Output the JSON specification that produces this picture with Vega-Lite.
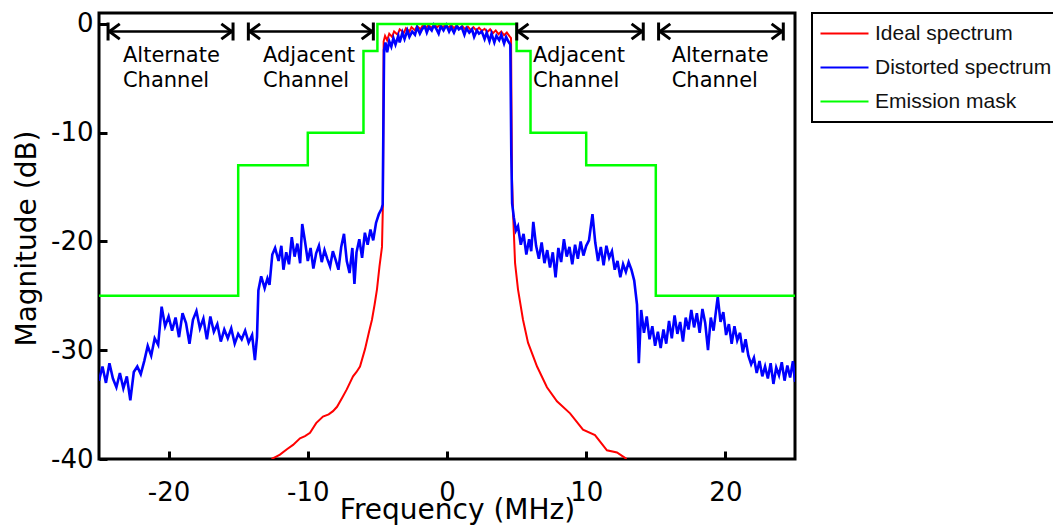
{
  "$schema": "https://vega.github.io/schema/vega-lite/v6.json",
  "width": 696,
  "height": 446,
  "autosize": {"type": "none"},
  "padding": {"left": 99, "top": 13, "right": 258, "bottom": 72},
  "background": "white",
  "config": {
    "view": {"stroke": "black", "strokeWidth": 3},
    "axis": {
      "grid": false, "domain": false, "zindex": 1,
      "labelFont": "DejaVu Sans", "labelFontSize": 26, "labelColor": "black",
      "titleFont": "DejaVu Sans", "titleFontSize": 28, "titleFontWeight": "normal", "titleColor": "black",
      "tickColor": "black", "tickWidth": 3, "tickSize": -8, "ticks": true, "tickOpacity": 1
    }
  },
  "datasets": {
    "ideal": [
      {"f": -12.6, "m": -40.0}, {"f": -12.3, "m": -39.8}, {"f": -12.0, "m": -39.6}, {"f": -11.5, "m": -39.1},
      {"f": -11.06, "m": -38.7}, {"f": -10.56, "m": -38.1}, {"f": -10.2, "m": -37.9}, {"f": -9.84, "m": -37.6},
      {"f": -9.4, "m": -36.7}, {"f": -8.91, "m": -36.1}, {"f": -8.5, "m": -35.9}, {"f": -8.19, "m": -35.6},
      {"f": -7.9, "m": -35.2}, {"f": -7.5, "m": -34.3}, {"f": -7.2, "m": -33.6}, {"f": -6.75, "m": -32.4},
      {"f": -6.5, "m": -32.0}, {"f": -6.25, "m": -31.5}, {"f": -5.89, "m": -29.9}, {"f": -5.6, "m": -28.3},
      {"f": -5.39, "m": -27.2}, {"f": -5.2, "m": -25.8}, {"f": -5.03, "m": -24.4}, {"f": -4.85, "m": -22.3},
      {"f": -4.67, "m": -20.5}, {"f": -4.6, "m": -16.4}, {"f": -4.55, "m": -1.6}, {"f": -4.45, "m": -1.1},
      {"f": -4.3, "m": -1.5}, {"f": -4.15, "m": -0.9}, {"f": -3.95, "m": -1.2}, {"f": -3.8, "m": -0.7},
      {"f": -3.55, "m": -1.0}, {"f": -3.4, "m": -0.5}, {"f": -3.1, "m": -0.8}, {"f": -2.95, "m": -0.4},
      {"f": -2.7, "m": -0.7}, {"f": -2.55, "m": -0.3}, {"f": -2.3, "m": -0.6}, {"f": -2.15, "m": -0.2},
      {"f": -1.9, "m": -0.5}, {"f": -1.75, "m": -0.15}, {"f": -1.5, "m": -0.4}, {"f": -1.35, "m": -0.1},
      {"f": -1.1, "m": -0.35}, {"f": -0.9, "m": -0.1}, {"f": -0.7, "m": -0.3}, {"f": -0.5, "m": -0.05},
      {"f": -0.3, "m": -0.3}, {"f": -0.1, "m": -0.1}, {"f": 0.1, "m": -0.35}, {"f": 0.3, "m": -0.1},
      {"f": 0.5, "m": -0.4}, {"f": 0.7, "m": -0.15}, {"f": 0.9, "m": -0.45}, {"f": 1.1, "m": -0.2},
      {"f": 1.3, "m": -0.5}, {"f": 1.5, "m": -0.25}, {"f": 1.7, "m": -0.55}, {"f": 1.9, "m": -0.3},
      {"f": 2.1, "m": -0.6}, {"f": 2.3, "m": -0.35}, {"f": 2.5, "m": -0.65}, {"f": 2.7, "m": -0.45},
      {"f": 2.9, "m": -0.75}, {"f": 3.1, "m": -0.5}, {"f": 3.3, "m": -0.85}, {"f": 3.5, "m": -0.6},
      {"f": 3.7, "m": -0.95}, {"f": 3.9, "m": -0.7}, {"f": 4.1, "m": -1.05}, {"f": 4.3, "m": -0.8},
      {"f": 4.5, "m": -1.15}, {"f": 4.6, "m": -1.3}, {"f": 4.67, "m": -14.3}, {"f": 4.75, "m": -17.5},
      {"f": 4.89, "m": -22.0}, {"f": 5.1, "m": -24.4}, {"f": 5.46, "m": -27.2}, {"f": 5.82, "m": -29.3},
      {"f": 6.47, "m": -31.5}, {"f": 7.18, "m": -33.4}, {"f": 7.9, "m": -34.7}, {"f": 8.84, "m": -35.8},
      {"f": 9.77, "m": -37.3}, {"f": 10.63, "m": -37.8}, {"f": 11.49, "m": -39.2}, {"f": 12.21, "m": -39.4},
      {"f": 12.79, "m": -39.9}, {"f": 12.9, "m": -40.0}
    ],
    "distorted": [
      {"f": -25.0, "m": -32.8}, {"f": -24.75, "m": -31.5}, {"f": -24.5, "m": -33.0}, {"f": -24.25, "m": -31.2},
      {"f": -24.0, "m": -32.6}, {"f": -23.75, "m": -33.4}, {"f": -23.5, "m": -32.1}, {"f": -23.25, "m": -33.5},
      {"f": -23.0, "m": -32.4}, {"f": -22.75, "m": -34.6}, {"f": -22.5, "m": -32.0}, {"f": -22.25, "m": -31.5},
      {"f": -22.0, "m": -32.2}, {"f": -21.75, "m": -31.0}, {"f": -21.5, "m": -29.6}, {"f": -21.25, "m": -30.5},
      {"f": -21.0, "m": -28.9}, {"f": -20.75, "m": -29.5}, {"f": -20.5, "m": -26.0}, {"f": -20.25, "m": -27.8},
      {"f": -20.0, "m": -26.9}, {"f": -19.75, "m": -28.2}, {"f": -19.5, "m": -27.0}, {"f": -19.25, "m": -28.8},
      {"f": -19.0, "m": -26.6}, {"f": -18.75, "m": -27.5}, {"f": -18.5, "m": -29.4}, {"f": -18.25, "m": -27.2},
      {"f": -18.0, "m": -26.4}, {"f": -17.75, "m": -28.0}, {"f": -17.5, "m": -27.1}, {"f": -17.25, "m": -29.0},
      {"f": -17.0, "m": -26.9}, {"f": -16.75, "m": -28.3}, {"f": -16.5, "m": -27.6}, {"f": -16.25, "m": -29.2},
      {"f": -16.0, "m": -28.1}, {"f": -15.75, "m": -28.9}, {"f": -15.5, "m": -28.0}, {"f": -15.25, "m": -29.4},
      {"f": -15.0, "m": -28.5}, {"f": -14.75, "m": -29.0}, {"f": -14.5, "m": -28.2}, {"f": -14.25, "m": -29.3},
      {"f": -14.0, "m": -28.6}, {"f": -13.8, "m": -30.9}, {"f": -13.65, "m": -28.8}, {"f": -13.55, "m": -24.5},
      {"f": -13.35, "m": -23.2}, {"f": -13.1, "m": -24.3}, {"f": -12.9, "m": -23.4}, {"f": -12.75, "m": -24.0},
      {"f": -12.55, "m": -21.2}, {"f": -12.35, "m": -20.6}, {"f": -12.1, "m": -21.8}, {"f": -11.9, "m": -20.4},
      {"f": -11.75, "m": -22.6}, {"f": -11.55, "m": -21.0}, {"f": -11.35, "m": -22.1}, {"f": -11.15, "m": -19.6},
      {"f": -10.95, "m": -21.4}, {"f": -10.75, "m": -20.2}, {"f": -10.55, "m": -22.0}, {"f": -10.4, "m": -18.4},
      {"f": -10.2, "m": -20.0}, {"f": -10.0, "m": -21.8}, {"f": -9.8, "m": -20.6}, {"f": -9.6, "m": -22.5},
      {"f": -9.4, "m": -21.1}, {"f": -9.2, "m": -20.4}, {"f": -9.0, "m": -21.9}, {"f": -8.8, "m": -20.8},
      {"f": -8.6, "m": -21.6}, {"f": -8.4, "m": -22.3}, {"f": -8.2, "m": -20.9}, {"f": -8.0, "m": -21.7},
      {"f": -7.8, "m": -22.6}, {"f": -7.6, "m": -20.5}, {"f": -7.4, "m": -19.3}, {"f": -7.2, "m": -21.8},
      {"f": -7.0, "m": -22.9}, {"f": -6.8, "m": -20.6}, {"f": -6.65, "m": -23.9}, {"f": -6.5, "m": -21.0},
      {"f": -6.3, "m": -19.8}, {"f": -6.1, "m": -21.5}, {"f": -5.9, "m": -19.2}, {"f": -5.7, "m": -20.3},
      {"f": -5.5, "m": -18.9}, {"f": -5.3, "m": -19.9}, {"f": -5.1, "m": -18.3}, {"f": -4.9, "m": -17.5},
      {"f": -4.7, "m": -17.0}, {"f": -4.62, "m": -16.6}, {"f": -4.56, "m": -8.0}, {"f": -4.52, "m": -2.4},
      {"f": -4.42, "m": -1.7}, {"f": -4.3, "m": -2.6}, {"f": -4.15, "m": -1.6}, {"f": -4.0, "m": -2.1},
      {"f": -3.85, "m": -1.3}, {"f": -3.7, "m": -1.9}, {"f": -3.5, "m": -1.1}, {"f": -3.4, "m": -1.7},
      {"f": -3.2, "m": -0.8}, {"f": -3.05, "m": -1.4}, {"f": -2.85, "m": -0.6}, {"f": -2.7, "m": -1.2},
      {"f": -2.5, "m": -0.7}, {"f": -2.3, "m": -1.0}, {"f": -2.15, "m": -0.3}, {"f": -1.95, "m": -0.9},
      {"f": -1.8, "m": -0.5}, {"f": -1.6, "m": -0.2}, {"f": -1.45, "m": -0.8}, {"f": -1.3, "m": -0.3},
      {"f": -1.1, "m": -0.6}, {"f": -0.95, "m": -0.1}, {"f": -0.75, "m": -0.5}, {"f": -0.6, "m": -0.9},
      {"f": -0.45, "m": -0.2}, {"f": -0.25, "m": -0.6}, {"f": -0.05, "m": -0.1}, {"f": 0.15, "m": -0.7},
      {"f": 0.3, "m": -0.3}, {"f": 0.5, "m": -0.8}, {"f": 0.7, "m": -0.2}, {"f": 0.85, "m": -0.5},
      {"f": 1.05, "m": -0.3}, {"f": 1.25, "m": -1.0}, {"f": 1.4, "m": -0.4}, {"f": 1.6, "m": -0.8},
      {"f": 1.8, "m": -0.5}, {"f": 1.95, "m": -1.2}, {"f": 2.15, "m": -0.6}, {"f": 2.3, "m": -0.9},
      {"f": 2.5, "m": -0.7}, {"f": 2.7, "m": -1.4}, {"f": 2.85, "m": -0.8}, {"f": 3.05, "m": -1.6},
      {"f": 3.2, "m": -0.9}, {"f": 3.4, "m": -1.7}, {"f": 3.55, "m": -1.1}, {"f": 3.75, "m": -1.5},
      {"f": 3.9, "m": -1.0}, {"f": 4.1, "m": -1.8}, {"f": 4.25, "m": -1.2}, {"f": 4.4, "m": -1.6},
      {"f": 4.55, "m": -1.9}, {"f": 4.62, "m": -12.0}, {"f": 4.68, "m": -16.5},
      {"f": 4.8, "m": -17.8}, {"f": 4.95, "m": -19.0}, {"f": 5.1, "m": -18.6}, {"f": 5.3, "m": -20.3},
      {"f": 5.5, "m": -19.3}, {"f": 5.7, "m": -21.2}, {"f": 5.9, "m": -19.8}, {"f": 6.05, "m": -20.9},
      {"f": 6.2, "m": -18.2}, {"f": 6.4, "m": -20.4}, {"f": 6.6, "m": -21.6}, {"f": 6.8, "m": -20.1},
      {"f": 7.0, "m": -22.0}, {"f": 7.2, "m": -20.8}, {"f": 7.4, "m": -22.4}, {"f": 7.6, "m": -21.0},
      {"f": 7.8, "m": -23.3}, {"f": 8.0, "m": -20.6}, {"f": 8.2, "m": -21.9}, {"f": 8.4, "m": -19.8},
      {"f": 8.6, "m": -21.4}, {"f": 8.8, "m": -20.5}, {"f": 9.0, "m": -22.1}, {"f": 9.2, "m": -20.3},
      {"f": 9.4, "m": -21.6}, {"f": 9.6, "m": -20.0}, {"f": 9.8, "m": -21.3}, {"f": 10.0, "m": -20.4},
      {"f": 10.2, "m": -19.9}, {"f": 10.45, "m": -17.5}, {"f": 10.65, "m": -20.1}, {"f": 10.85, "m": -21.8},
      {"f": 11.05, "m": -20.5}, {"f": 11.25, "m": -22.2}, {"f": 11.45, "m": -20.4}, {"f": 11.65, "m": -21.5},
      {"f": 11.85, "m": -20.9}, {"f": 12.05, "m": -22.6}, {"f": 12.25, "m": -21.8}, {"f": 12.45, "m": -23.3},
      {"f": 12.65, "m": -22.1}, {"f": 12.85, "m": -22.8}, {"f": 13.05, "m": -21.9}, {"f": 13.25, "m": -22.6},
      {"f": 13.45, "m": -23.6}, {"f": 13.65, "m": -25.8}, {"f": 13.78, "m": -31.2}, {"f": 13.95, "m": -26.3},
      {"f": 14.15, "m": -28.4}, {"f": 14.35, "m": -26.9}, {"f": 14.55, "m": -29.0}, {"f": 14.75, "m": -27.8},
      {"f": 14.95, "m": -29.6}, {"f": 15.15, "m": -28.3}, {"f": 15.35, "m": -29.8}, {"f": 15.55, "m": -28.1},
      {"f": 15.75, "m": -29.4}, {"f": 15.95, "m": -27.3}, {"f": 16.15, "m": -28.9}, {"f": 16.35, "m": -26.8},
      {"f": 16.55, "m": -28.5}, {"f": 16.75, "m": -27.4}, {"f": 16.95, "m": -29.2}, {"f": 17.15, "m": -27.0},
      {"f": 17.35, "m": -28.1}, {"f": 17.55, "m": -26.3}, {"f": 17.75, "m": -27.9}, {"f": 17.95, "m": -26.6},
      {"f": 18.15, "m": -28.4}, {"f": 18.35, "m": -26.2}, {"f": 18.55, "m": -27.5}, {"f": 18.75, "m": -30.0},
      {"f": 18.95, "m": -27.0}, {"f": 19.15, "m": -28.2}, {"f": 19.35, "m": -26.1}, {"f": 19.45, "m": -25.1},
      {"f": 19.65, "m": -27.4}, {"f": 19.85, "m": -26.5}, {"f": 20.05, "m": -28.6}, {"f": 20.25, "m": -27.6},
      {"f": 20.45, "m": -29.4}, {"f": 20.65, "m": -27.8}, {"f": 20.85, "m": -29.1}, {"f": 21.05, "m": -28.4},
      {"f": 21.25, "m": -30.2}, {"f": 21.45, "m": -29.0}, {"f": 21.65, "m": -30.5}, {"f": 21.85, "m": -31.3},
      {"f": 22.05, "m": -30.7}, {"f": 22.25, "m": -32.1}, {"f": 22.45, "m": -31.0}, {"f": 22.65, "m": -32.4},
      {"f": 22.85, "m": -31.5}, {"f": 23.05, "m": -32.6}, {"f": 23.25, "m": -31.2}, {"f": 23.45, "m": -33.1},
      {"f": 23.65, "m": -31.6}, {"f": 23.85, "m": -32.3}, {"f": 24.05, "m": -31.1}, {"f": 24.25, "m": -32.8},
      {"f": 24.45, "m": -31.4}, {"f": 24.65, "m": -32.5}, {"f": 24.85, "m": -31.0}, {"f": 25.0, "m": -32.9}
    ],
    "mask": [
      {"f": -25, "m": -25}, {"f": -15, "m": -13}, {"f": -10, "m": -10}, {"f": -6, "m": -2.5},
      {"f": -5, "m": 0}, {"f": 5, "m": -2.5}, {"f": 6, "m": -10}, {"f": 10, "m": -13},
      {"f": 15, "m": -25}, {"f": 25, "m": -25}
    ],
    "arrows": [
      {"a": -24.35, "b": -15.37, "y": -0.7},
      {"a": -14.27, "b": -5.29, "y": -0.7},
      {"a": 5.01, "b": 14.1, "y": -0.7},
      {"a": 15.2, "b": 24.16, "y": -0.7}
    ],
    "labels": [
      {"x": -23.28, "y": -3.55, "label": "Alternate\nChannel"},
      {"x": -13.22, "y": -3.55, "label": "Adjacent\nChannel"},
      {"x": 6.18, "y": -3.55, "label": "Adjacent\nChannel"},
      {"x": 16.14, "y": -3.55, "label": "Alternate\nChannel"}
    ]
  },
  "layer": [
    {
      "data": {"name": "ideal"},
      "mark": {"type": "line", "strokeWidth": 2, "clip": true},
      "encoding": {
        "x": {
          "field": "f", "type": "quantitative", "title": "Frequency (MHz)",
          "scale": {"domain": [-25, 25], "nice": false, "zero": false},
          "axis": {
            "values": [-20, -10, 0, 10, 20],
            "labelExpr": "datum.value < 0 ? '-' + abs(datum.value) + '\u00a0' : '' + datum.value",
            "labelBaseline": "alphabetic", "labelPadding": 49,
            "titleX": 358, "titleY": 59, "titleBaseline": "alphabetic", "titleAlign": "center", "titleAnchor": null
          }
        },
        "y": {
          "field": "m", "type": "quantitative", "title": "Magnitude (dB)",
          "scale": {"domain": [-40, 1], "nice": false, "zero": false},
          "axis": {
            "values": [-40, -30, -20, -10, 0],
            "labelExpr": "datum.value < 0 ? '-' + abs(datum.value) : '' + datum.value",
            "labelPadding": 14,
            "titleX": -64, "titleY": 225, "titleAngle": 270, "titleBaseline": "alphabetic", "titleAlign": "center"
          }
        },
        "color": {
          "datum": "Ideal spectrum",
          "scale": {"domain": ["Ideal spectrum", "Distorted spectrum", "Emission mask"], "range": ["#ff0000", "#0000ff", "#00ff00"]},
          "legend": {
            "orient": "none", "legendX": 713, "legendY": 0, "title": null,
            "padding": 10, "strokeColor": "black", "fillColor": "white",
            "labelFont": "Liberation Sans", "labelFontSize": 21, "labelColor": "#111111", "labelLimit": 400,
            "symbolType": "M-1.5,0L4.5,0", "symbolSize": 256, "symbolStrokeWidth": 2,
            "labelOffset": 32, "rowPadding": 12,
            "encode": {"legend": {"update": {"strokeWidth": {"value": 2}}}}
          }
        }
      }
    },
    {
      "data": {"name": "distorted"},
      "mark": {"type": "line", "strokeWidth": 2.6, "clip": true},
      "encoding": {
        "x": {"field": "f", "type": "quantitative", "title": "Frequency (MHz)"},
        "y": {"field": "m", "type": "quantitative", "title": "Magnitude (dB)"},
        "color": {"datum": "Distorted spectrum"}
      }
    },
    {
      "data": {"name": "mask"},
      "mark": {"type": "line", "strokeWidth": 2.5, "interpolate": "step-after", "clip": true},
      "encoding": {
        "x": {"field": "f", "type": "quantitative", "title": "Frequency (MHz)"},
        "y": {"field": "m", "type": "quantitative", "title": "Magnitude (dB)"},
        "color": {"datum": "Emission mask"}
      }
    },
    {
      "data": {"name": "arrows"},
      "mark": {"type": "rule", "color": "black", "strokeWidth": 2.5},
      "encoding": {
        "x": {"field": "a", "type": "quantitative", "title": "Frequency (MHz)"},
        "x2": {"field": "b"},
        "y": {"field": "y", "type": "quantitative", "title": "Magnitude (dB)"}
      }
    },
    {
      "data": {"name": "arrows"},
      "mark": {"type": "point", "shape": "M0,-1L0,1M1.3,-0.85L0.15,0L1.3,0.85", "size": 324, "filled": false, "stroke": "black", "strokeWidth": 3, "opacity": 1},
      "encoding": {
        "x": {"field": "a", "type": "quantitative", "title": "Frequency (MHz)"},
        "y": {"field": "y", "type": "quantitative", "title": "Magnitude (dB)"}
      }
    },
    {
      "data": {"name": "arrows"},
      "mark": {"type": "point", "shape": "M0,-1L0,1M-1.3,-0.85L-0.15,0L-1.3,0.85", "size": 324, "filled": false, "stroke": "black", "strokeWidth": 3, "opacity": 1},
      "encoding": {
        "x": {"field": "b", "type": "quantitative", "title": "Frequency (MHz)"},
        "y": {"field": "y", "type": "quantitative", "title": "Magnitude (dB)"}
      }
    },
    {
      "data": {"name": "labels"},
      "mark": {"type": "text", "font": "DejaVu Sans", "fontSize": 21, "align": "left", "baseline": "alphabetic", "lineBreak": "\n", "lineHeight": 25, "color": "black"},
      "encoding": {
        "x": {"field": "x", "type": "quantitative", "title": "Frequency (MHz)"},
        "y": {"field": "y", "type": "quantitative", "title": "Magnitude (dB)"},
        "text": {"field": "label"}
      }
    }
  ]
}
